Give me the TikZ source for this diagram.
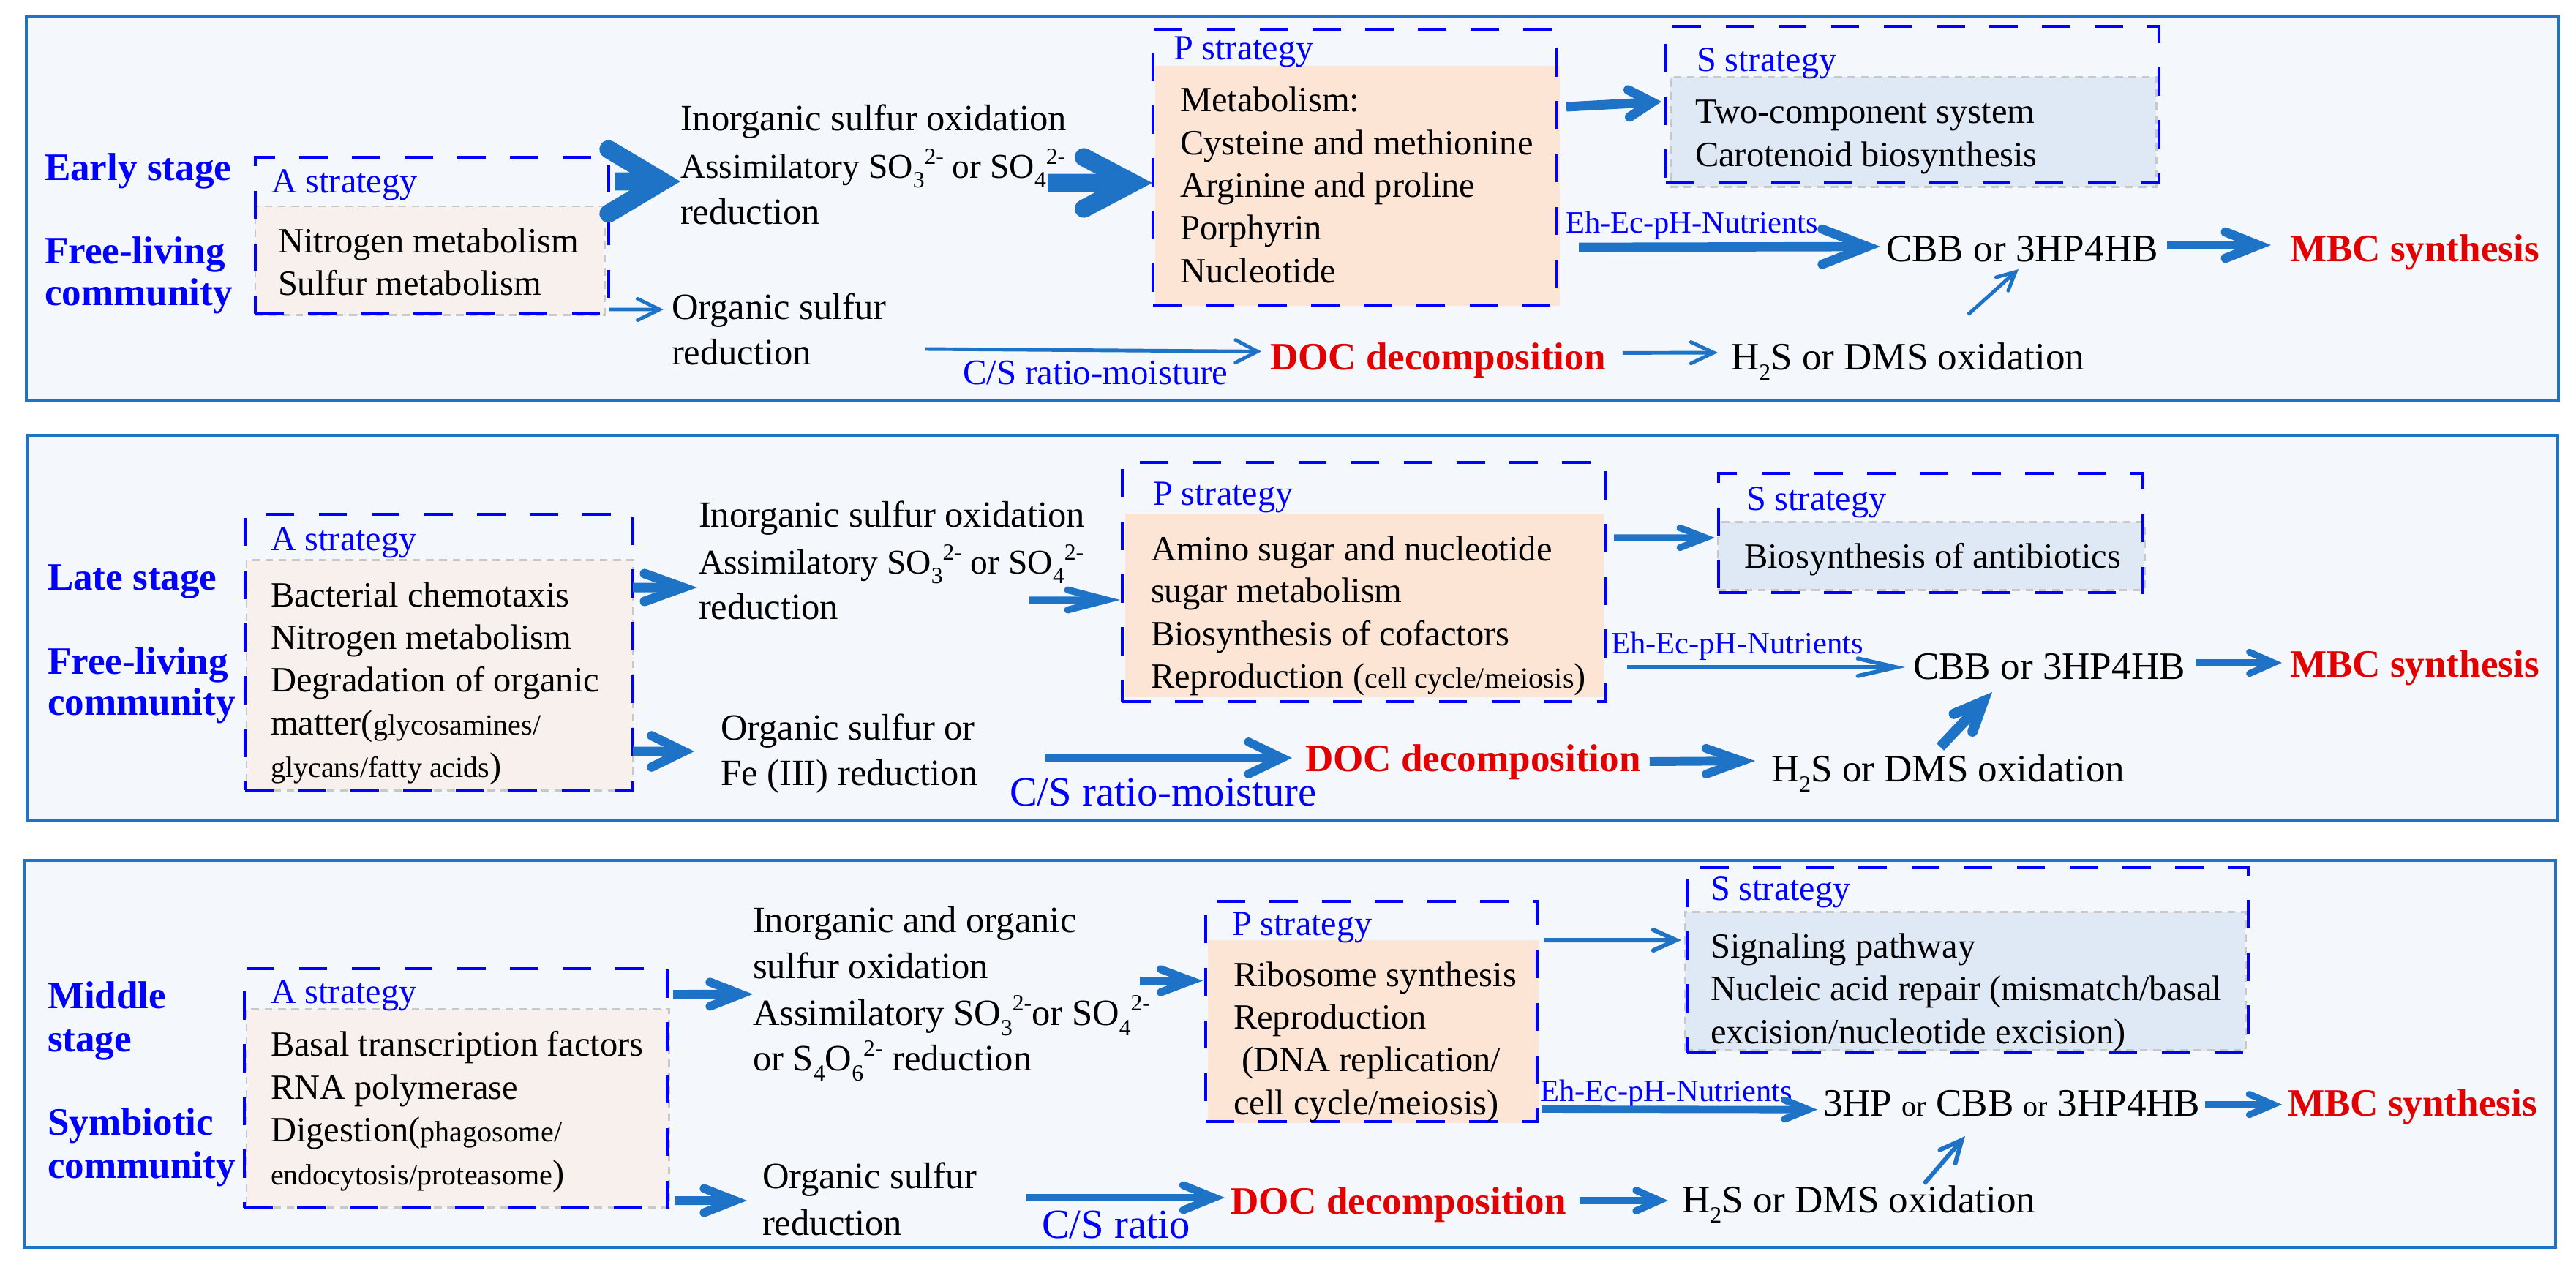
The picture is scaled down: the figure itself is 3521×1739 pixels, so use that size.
\documentclass[tikz,border=0pt]{standalone}
\usepackage{fontspec}
\setmainfont{Liberation Serif}
\usetikzlibrary{arrows.meta,calc}
\definecolor{ablue}{RGB}{30,115,198}
\definecolor{pbg}{RGB}{244,248,252}
\definecolor{lblue}{RGB}{0,0,255}
\definecolor{dred}{RGB}{226,0,0}
\definecolor{afillc}{RGB}{248,240,236}
\definecolor{pfillc}{RGB}{253,229,214}
\definecolor{sfillc}{RGB}{223,233,246}
\definecolor{gdash}{RGB}{200,200,200}
\newcommand\ftxt{\fontsize{13.8pt}{16.6pt}\selectfont}
\newcommand\fflow{\fontsize{14.4pt}{18pt}\selectfont}
\newcommand\fasm{\fontsize{13.5pt}{17pt}\selectfont}
\newcommand\fbig{\fontsize{15.1pt}{18pt}\selectfont}
\newcommand\fstrat{\fontsize{13.7pt}{16pt}\selectfont}
\newcommand\feh{\fontsize{12.1pt}{14pt}\selectfont}
\newcommand\fcs{\fontsize{13.9pt}{16pt}\selectfont}
\newcommand\fcsb{\fontsize{16.1pt}{19pt}\selectfont}
\newcommand\fsml{\fontsize{11.4pt}{13pt}\selectfont}
\newcommand\fscr{\fontsize{9pt}{10pt}\selectfont}
\newcommand\ssb[1]{\raisebox{-0.28em}{\fscr #1}}
\newcommand\ssp[1]{\raisebox{0.4em}{\fscr #1}}
\newcommand\bx[6]{\pgfmathsetmacro\bxw{(#5-#3)*0.01}\pgfmathsetmacro\bxh{(#6-#4)*0.01}%
  \node[#2,minimum width=\bxw cm,minimum height=\bxh cm] (#1) at ({(#3+#5)/2},{(#4+#6)/2}) {};}
\begin{document}
\begin{tikzpicture}[x=0.01cm,y=-0.01cm,
  panel/.style={draw=ablue,fill=pbg,line width=1.2pt,inner sep=0pt,outer sep=0pt},
  dbox/.style={draw=lblue,line width=1.15pt,dash pattern=on 11pt off 9.5pt,inner sep=0pt,outer sep=0pt},
  afill/.style={fill=afillc,draw=gdash,line width=0.85pt,dash pattern=on 3pt off 2.2pt,inner sep=0pt,outer sep=0pt},
  sfill/.style={fill=sfillc,draw=gdash,line width=0.85pt,dash pattern=on 3pt off 2.2pt,inner sep=0pt,outer sep=0pt},
  pfill/.style={fill=pfillc,inner sep=0pt,outer sep=0pt},
  t/.style={anchor=base west,inner sep=0pt,outer sep=0pt},
  lab/.style={t,text=lblue,font=\fbig\bfseries},
  strat/.style={t,text=lblue,font=\fstrat},
  bt/.style={t,font=\ftxt},
  fl/.style={t,font=\fflow},
  fla/.style={t,font=\fasm},
  bg/.style={t,font=\fbig},
  redt/.style={t,text=dred,font=\fbig\bfseries},
  eh/.style={t,text=lblue,font=\feh},
  cs/.style={t,text=lblue,font=\fcs},
  csb/.style={t,text=lblue,font=\fcsb},
  ar/.style n args={3}{draw=ablue,line width=#1pt,-{Straight Barb[length=#2pt,width=#3pt,line cap=round,line join=miter]}}
]
\useasboundingbox (0,0) rectangle (3521,1739);
% ================= PANEL 1 =================
\bx{P1}{panel}{36}{23}{3497}{548}
\bx{A1f}{afill}{349}{282}{826}{430}
\bx{A1}{dbox}{349}{215}{832}{429}
\bx{Pf1}{pfill}{1579}{90}{2132}{418}
\bx{Pb1}{dbox}{1576}{40}{2128}{418}
\bx{S1f}{sfill}{2283}{105}{2947}{255}
\bx{S1}{dbox}{2277}{36}{2951}{250}
\node[lab] (L1a) at (61,246.5) {Early stage};
\node[lab] (L1b) at (61,360.5) {Free-living};
\node[lab] (L1c) at (61,417.5) {community};
\node[strat] (A1t) at (371,263) {A strategy};
\node[bt] (A1l1) at (380,345) {Nitrogen metabolism};
\node[bt] (A1l2) at (380,403) {Sulfur metabolism};
\node[fl] (I1a) at (930,178.6) {Inorganic sulfur oxidation};
\node[fla] (I1b) at (930,243) {Assimilatory SO\ssb{3}\ssp{2-} or SO\ssb{4}\ssp{2-}};
\node[fl] (I1c) at (930,306) {reduction};
\node[fl] (O1a) at (918,436) {Organic sulfur};
\node[fl] (O1b) at (918,498) {reduction};
\node[strat] (P1t) at (1604,81.4) {P strategy};
\node[bt] (P1l1) at (1613,152.9) {Metabolism:};
\node[bt] (P1l2) at (1613,211.8) {Cysteine and methionine};
\node[bt] (P1l3) at (1613,269.6) {Arginine and proline};
\node[bt] (P1l4) at (1613,327.9) {Porphyrin};
\node[bt] (P1l5) at (1613,386.4) {Nucleotide};
\node[strat] (S1t) at (2319,97) {S strategy};
\node[bt] (S1l1) at (2317,168) {Two-component system};
\node[bt] (S1l2) at (2317,227) {Carotenoid biosynthesis};
\node[eh] (E1) at (2140,318) {Eh-Ec-pH-Nutrients};
\node[bg] (C1) at (2578,357) {CBB or 3HP4HB};
\node[redt] (M1) at (3130,357) {MBC synthesis};
\node[bg] (H1) at (2366,505) {H\ssb{2}S or DMS oxidation};
\node[cs] (CS1) at (1316,525) {C/S ratio-moisture};
\node[redt] (D1) at (1736,505.4) {DOC decomposition};
\draw[ar={7.1}{21}{25}] ($(A1.north east)+(8,33)$) -- ($(I1b.base west)+(0,5)$);
\draw[ar={7.1}{19}{20}] ($(I1b.base east)+(-24,7)$) -- ($(Pb1.north west)+(-1,210)$);
\draw[ar={1.4}{8.5}{8.3}] ($(A1.south east)+(0,-6)$) -- ($(O1a.base west)+(-11,-13)$);
\draw[ar={3.7}{9}{10.5}] ($(Pb1.north east)+(13,106)$) -- ($(S1.north west)+(-6,103)$);
\draw[ar={3.6}{17.6}{13.7}] ($(E1.base west)+(18,20)$) -- ($(C1.base west)+(-8,-20)$);
\draw[ar={3.6}{12.8}{10.2}] ($(C1.base east)+(12,-22)$) -- ($(M1.base west)+(-26,-22)$);
\draw[ar={1.4}{7}{7}] ($(H1.base west)+(324,-75)$) -- ($(C1.base west)+(181,11)$);
\draw[ar={1.4}{8.5}{8.8}] ($(O1b.base west)+(347,-21)$) -- ($(D1.base west)+(-12,-25)$);
\draw[ar={1.4}{8.8}{8.3}] ($(D1.base east)+(23,-23)$) -- ($(H1.base west)+(-18,-23)$);
% ================= PANEL 2 =================
\bx{P2}{panel}{37}{595}{3496}{1122}
\bx{A2f}{afill}{337}{765}{865}{1080}
\bx{A2}{dbox}{335}{703}{865}{1080}
\bx{Pf2}{pfill}{1538}{702}{2192}{953}
\bx{Pb2}{dbox}{1534}{632}{2195}{959}
\bx{S2f}{sfill}{2348}{713}{2931}{806}
\bx{S2}{dbox}{2349}{647}{2929}{810}
\node[lab] (L2a) at (65,806.4) {Late stage};
\node[lab] (L2b) at (65,921) {Free-living};
\node[lab] (L2c) at (65,977.6) {community};
\node[strat] (A2t) at (370,752.6) {A strategy};
\node[bt] (A2l1) at (370,829) {Bacterial chemotaxis};
\node[bt] (A2l2) at (370,887.3) {Nitrogen metabolism};
\node[bt] (A2l3) at (370,945.6) {Degradation of organic};
\node[bt] (A2l4) at (370,1004) {matter({\fsml glycosamines/}};
\node[bt] (A2l5) at (370,1062) {{\fsml glycans/fatty acids})};
\node[fl] (I2a) at (955,720) {Inorganic sulfur oxidation};
\node[fla] (I2b) at (955,784) {Assimilatory SO\ssb{3}\ssp{2-} or SO\ssb{4}\ssp{2-}};
\node[fl] (I2c) at (955,846) {reduction};
\node[fl] (O2a) at (985,1011.5) {Organic sulfur or};
\node[fl] (O2b) at (985,1073.5) {Fe (III) reduction};
\node[strat] (P2t) at (1576,690) {P strategy};
\node[bt] (P2l1) at (1573,766) {Amino sugar and nucleotide};
\node[bt] (P2l2) at (1573,823.4) {sugar metabolism};
\node[bt] (P2l3) at (1573,882.8) {Biosynthesis of cofactors};
\node[bt] (P2l4) at (1573,940.7) {Reproduction ({\fsml cell cycle/meiosis})};
\node[strat] (S2t) at (2387,697.3) {S strategy};
\node[bt] (S2l1) at (2384,776.3) {Biosynthesis of antibiotics};
\node[eh] (E2) at (2202,893) {Eh-Ec-pH-Nutrients};
\node[bg] (C2) at (2615,928.7) {CBB or 3HP4HB};
\node[redt] (M2) at (3130,925) {MBC synthesis};
\node[bg] (H2) at (2421,1068) {H\ssb{2}S or DMS oxidation};
\node[csb] (CS2) at (1380,1101.8) {C/S ratio-moisture};
\node[redt] (D2) at (1784,1054.7) {DOC decomposition};
\draw[ar={3.7}{15}{10.8}] ($(A2.north east)+(0,100)$) -- ($(I2b.base west)+(-2,19)$);
\draw[ar={3.6}{12.5}{12.2}] ($(A2.south east)+(0,-53)$) -- ($(O2a.base west)+(-36,15.5)$);
\draw[ar={2.7}{15}{7.8}] ($(I2b.base west)+(452,36)$) -- ($(Pb2.north west)+(-3,188)$);
\draw[ar={2.6}{10}{7.7}] ($(Pb2.north east)+(11,103)$) -- ($(S2.north west)+(-5,88)$);
\draw[ar={1.6}{14.8}{6.8}] ($(E2.base west)+(22,19)$) -- ($(C2.base west)+(-11,-16.7)$);
\draw[ar={2.6}{9.4}{8.3}] ($(C2.base east)+(15,-22.7)$) -- ($(M2.base west)+(-11,-19)$);
\draw[ar={4}{11.4}{10}] ($(H2.base west)+(231,-47)$) -- ($(C2.base west)+(108,17.3)$);
\draw[ar={3.4}{13}{12.5}] ($(O2b.base west)+(443,-37.5)$) -- ($(D2.base west)+(-18,-18.7)$);
\draw[ar={3.4}{14}{10}] ($(D2.base east)+(12,-13.7)$) -- ($(H2.base west)+(-22,-28)$);
% ================= PANEL 3 =================
\bx{P3}{panel}{33}{1176}{3493}{1705}
\bx{A3f}{afill}{337}{1379}{914}{1650}
\bx{A3}{dbox}{334}{1324}{912}{1651}
\bx{Pf3}{pfill}{1651}{1284.5}{2103}{1535}
\bx{Pb3}{dbox}{1648}{1232}{2101}{1533}
\bx{S3f}{sfill}{2303}{1246}{3069}{1435.5}
\bx{S3}{dbox}{2306}{1186}{3073}{1439}
\node[lab] (L3a) at (65,1378.4) {Middle};
\node[lab] (L3b) at (65,1437.4) {stage};
\node[lab] (L3c) at (65,1551.2) {Symbiotic};
\node[lab] (L3d) at (65,1610) {community};
\node[strat] (A3t) at (370,1371.6) {A strategy};
\node[bt] (A3l1) at (370,1443.8) {Basal transcription factors};
\node[bt] (A3l2) at (370,1502) {RNA polymerase};
\node[bt] (A3l3) at (370,1560.2) {Digestion({\fsml phagosome/}};
\node[bt] (A3l4) at (370,1619.6) {{\fsml endocytosis/proteasome})};
\node[fl] (I3a) at (1029,1274) {Inorganic and organic};
\node[fl] (I3b) at (1029,1337.8) {sulfur oxidation};
\node[fl] (I3c) at (1029,1401.7) {Assimilatory SO\ssb{3}\ssp{2-}or SO\ssb{4}\ssp{2-}};
\node[fl] (I3d) at (1029,1463.7) {or S\ssb{4}O\ssb{6}\ssp{2-} reduction};
\node[fl] (O3a) at (1042,1624) {Organic sulfur};
\node[fl] (O3b) at (1042,1688) {reduction};
\node[strat] (P3t) at (1684,1278.5) {P strategy};
\node[bt] (P3l1) at (1686,1348.3) {Ribosome synthesis};
\node[bt] (P3l2) at (1686,1406.6) {Reproduction};
\node[bt] (P3l3) at (1697,1464.8) {(DNA replication/};
\node[bt] (P3l4) at (1686,1523.8) {cell cycle/meiosis)};
\node[strat] (S3t) at (2338,1230.8) {S strategy};
\node[bt] (S3l1) at (2338,1309.7) {Signaling pathway};
\node[bt] (S3l2) at (2338,1367.9) {Nucleic acid repair (mismatch/basal};
\node[bt] (S3l3) at (2338,1426) {excision/nucleotide excision)};
\node[eh] (E3) at (2105,1505) {Eh-Ec-pH-Nutrients};
\node[bg] (C3) at (2492,1525.7) {3HP {\fsml or} CBB {\fsml or} 3HP4HB};
\node[redt] (M3) at (3127,1525.7) {MBC synthesis};
\node[bg] (H3) at (2299,1657) {H\ssb{2}S or DMS oxidation};
\node[csb] (CS3) at (1424,1692.8) {C/S ratio};
\node[redt] (D3) at (1682,1659) {DOC decomposition};
\draw[ar={3.4}{12}{9.4}] ($(A3.north east)+(8,35)$) -- ($(I3b.base west)+(0,21)$);
\draw[ar={3.4}{12}{9.4}] ($(A3.south east)+(10,-10)$) -- ($(O3a.base west)+(-21,17)$);
\draw[ar={3.1}{12}{9}] ($(I3b.base west)+(529,2.7)$) -- ($(Pb3.north west)+(-4,108.5)$);
\draw[ar={1.7}{8.8}{8}] ($(Pb3.north east)+(10,53)$) -- ($(S3.north west)+(-8,99)$);
\draw[ar={2.8}{9}{7.4}] ($(E3.base west)+(2,11)$) -- ($(C3.base west)+(-8,-9)$);
\draw[ar={2.6}{9.4}{8}] ($(C3.base east)+(7,-16)$) -- ($(M3.base west)+(-8,-16)$);
\draw[ar={1.7}{8.5}{8}] ($(H3.base west)+(331,-39)$) -- ($(C3.base west)+(194,27.3)$);
\draw[ar={3.1}{12}{9.7}] ($(O3b.base west)+(361,-51)$) -- ($(D3.base west)+(-8,-22)$);
\draw[ar={2.8}{9}{8}] ($(D3.base east)+(18,-18)$) -- ($(H3.base west)+(-19,-16)$);
\end{tikzpicture}
\end{document}
